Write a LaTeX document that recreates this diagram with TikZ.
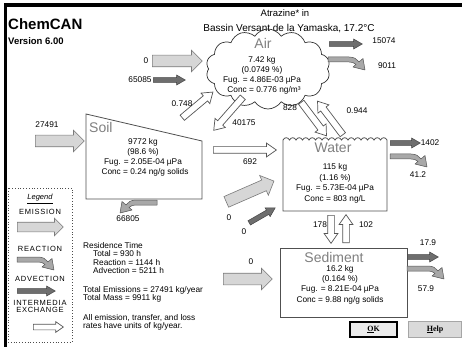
\documentclass[tikz,border=0pt]{standalone}
\usepackage{fontspec}
\setmainfont{Liberation Sans}
\newfontfamily\btnfont{Liberation Serif}
\newfontfamily\legfont[LetterSpace=10]{Liberation Sans}
\usetikzlibrary{shapes.arrows,shapes.symbols}
\definecolor{emfill}{HTML}{D6D6D6}
\definecolor{emline}{HTML}{7A7A7A}
\definecolor{advfill}{HTML}{6E6E6E}
\definecolor{advline}{HTML}{444444}
\definecolor{rxfill}{HTML}{A8A8A8}
\definecolor{rxline}{HTML}{555555}
\definecolor{boxline}{HTML}{505050}
\definecolor{titlegrey}{HTML}{808080}
\definecolor{btngrey}{HTML}{DADADA}
\tikzset{
  lbl/.style={inner sep=0pt, font=\fontsize{8.3}{10}\selectfont},
  txt/.style={inner sep=0pt, anchor=base, font=\fontsize{8.3}{10}\selectfont},
  ltxt/.style={inner sep=0pt, anchor=base west, font=\fontsize{8.3}{10}\selectfont},
  bigname/.style={inner sep=0pt, text=titlegrey, font=\fontsize{14}{14}\selectfont},
  legtxt/.style={inner sep=0pt, anchor=base, font=\legfont\fontsize{7.5}{8}\selectfont},
  compbox/.style={draw=boxline, line width=0.8pt},
  emarrow/.style={single arrow, draw=emline, fill=emfill, line width=0.6pt,
    inner xsep=0pt, inner ysep=5.5pt, single arrow head extend=5pt, single arrow tip angle=90,
    anchor=tail},
  advarrow/.style={single arrow, draw=advline, fill=advfill, line width=0.5pt,
    inner xsep=0pt, inner ysep=2.2pt, single arrow head extend=2.6pt, single arrow tip angle=60,
    anchor=tail},
  exarrow/.style={single arrow, draw=rxline, fill=white, line width=0.7pt,
    inner xsep=0pt, inner ysep=3pt, single arrow head extend=3.5pt, single arrow tip angle=70,
    anchor=tail},
  rxarrow/.pic={
    \draw[draw=rxline, fill=rxfill, line width=0.5pt, line join=round]
      (0,0) -- (21,0) .. controls (26,0) and (29,2) .. (31,4.9)
      -- (35,1.5) -- (37,13) -- (25,10) -- (28,7.45)
      .. controls (26,5.6) and (24,5) .. (21,5) -- (0,5) -- cycle;
  }
}
\begin{document}
\begin{tikzpicture}[x=1pt,y=-1pt]
\useasboundingbox (0,0) rectangle (462,347);
\fill[white] (0,0) rectangle (462,347);
% window frame
\fill[black] (3.5,3.5) rectangle (462,7);
\fill[black] (3.5,3.5) rectangle (7,347);

% headings
\node[inner sep=0pt, anchor=base west, font=\bfseries\fontsize{15}{15}\selectfont] (app) at (8,30) {ChemCAN};
\node[inner sep=0pt, anchor=base west, font=\bfseries\fontsize{9.5}{10}\selectfont] (ver) at (8,45) {Version 6.00};
\node[inner sep=0pt, anchor=base, font=\fontsize{9.5}{10}\selectfont] (title1) at (285,17) {Atrazine* in};
\node[inner sep=0pt, anchor=base, font=\fontsize{10}{10}\selectfont] (title2) at (289,31.5) {Bassin Versant de la Yamaska, 17.2°C};

% ---------- compartments ----------
\node[cloud, cloud puffs=14, cloud puff arc=115, aspect=1.7, draw=black!80, line width=0.7pt,
      minimum width=124pt, minimum height=80pt, inner sep=0pt] (air) at (268,69) {};
\node[bigname, anchor=base] (airname) at (263,49) {Air};
\node[txt] (airm) at (262,63) {7.42 kg};
\node[txt] (airp) at (262,73) {(0.0749 \%)};
\node[txt] (airf) at (262,83) {Fug. = 4.86E-03 µPa};
\node[txt] (airc) at (264,92.5) {Conc = 0.776 ng/m³};

\draw[compbox] (86,114) -- (202,141) -- (202,199) -- (86,199) -- cycle;
\coordinate (soil) at (144,160);
\node[bigname, anchor=base west] (soilname) at (89,133) {Soil};
\node[txt] (soilm) at (143,145) {9772 kg};
\node[txt] (soilp) at (143,155) {(98.6 \%)};
\node[txt] (soilf) at (143,165) {Fug. = 2.05E-04 µPa};
\node[txt] (soilc) at (145,175) {Conc = 0.24 ng/g solids};

\draw[compbox] (283,211) -- (283,140)
  \foreach \i in {0,...,15}{ .. controls ({283+6.5*\i+1.6},137) and ({283+6.5*\i+4.9},137) .. ({283+6.5*(\i+1)},140) }
  -- (387,211) -- cycle;
\coordinate (water) at (335,176);
\node[bigname, anchor=base] (watername) at (333,153) {Water};
\node[txt] (waterm) at (335,170) {115 kg};
\node[txt] (waterp) at (335,180) {(1.16 \%)};
\node[txt] (waterf) at (335,190.5) {Fug. = 5.73E-04 µPa};
\node[txt] (waterc) at (335,201) {Conc = 803 ng/L};

\draw[compbox] (280,248) rectangle (407,317);
\coordinate (sed) at (343,282);
\node[bigname, anchor=base] (sedname) at (334,262) {Sediment};
\node[txt] (sedm) at (340,271) {16.2 kg};
\node[txt] (sedp) at (340,281) {(0.164 \%)};
\node[txt] (sedf) at (340,291.5) {Fug. = 8.21E-04 µPa};
\node[txt] (sedc) at (340,302) {Conc = 9.88 ng/g solids};

% ---------- emissions ----------
\node[emarrow, minimum height=50pt] (eair) at (152,61) {};
\node[lbl] (leair) at (146,61) {0};
\node[emarrow, minimum height=49pt] (esoil) at (35,141) {};
\node[lbl] (lesoil) at (47,125) {27491};
\node[emarrow, minimum height=52pt, rotate=23.6] (ewater) at (226,202) {};
\node[lbl] (lewater) at (229,218) {0};
\node[emarrow, minimum height=49pt] (esed) at (223,279) {};
\node[lbl] (lesed) at (251,262) {0};

% ---------- advection ----------
\node[advarrow, minimum height=32pt] (aairin) at (153,80) {};
\node[lbl] (laairin) at (140,80) {65085};
\node[advarrow, minimum height=33pt] (aairout) at (329,44) {};
\node[lbl] (laairout) at (384,41) {15074};
\node[advarrow, minimum height=30pt, rotate=30] (awaterin) at (249,223) {};
\node[lbl] (lawaterin) at (244,232) {0};
\node[advarrow, minimum height=30pt] (awaterout) at (390,143) {};
\node[lbl] (lawaterout) at (430,143) {1402};
\node[advarrow, minimum height=31pt] (asedout) at (407,257) {};
\node[lbl] (lasedout) at (428,243) {17.9};

% ---------- reactions ----------
\pic (rair) at (328,57) {rxarrow};
\node[lbl] (lrair) at (387,66) {9011};
\pic (rwater) at (390,154) {rxarrow};
\node[lbl] (lrwater) at (418,175) {41.2};
\pic (rsed) at (407,266) {rxarrow};
\node[lbl] (lrsed) at (426,289) {57.9};
\pic[xscale=-1] (rsoil) at (157,200) {rxarrow};
\node[lbl] (lrsoil) at (128,219) {66805};

% ---------- intermedia exchange ----------
\node[exarrow, minimum height=40pt, rotate=40] (xsa) at (182,118) {};
\node[lbl] (lxsa) at (182,104) {0.748};
\node[exarrow, minimum height=44pt, rotate=228.7] (xas) at (243,97) {};
\node[lbl] (lxas) at (244,123) {40175};
\node[exarrow, minimum height=42pt, rotate=-53] (xaw) at (301,102) {};
\node[lbl] (lxaw) at (290,108) {828};
\node[exarrow, minimum height=42pt, rotate=127] (xwa) at (343,135) {};
\node[lbl] (lxwa) at (357,111) {0.944};
\node[exarrow, minimum height=63pt] (xsw) at (213,150) {};
\node[lbl] (lxsw) at (250,162) {692};
\node[exarrow, minimum height=28pt, rotate=-90] (xws) at (331,215) {};
\node[lbl] (lxws) at (320,225) {178};
\node[exarrow, minimum height=28pt, rotate=90] (xsw2) at (346,243) {};
\node[lbl] (lxsw2) at (366,225) {102};

% ---------- legend ----------
\draw[black!70, line width=0.8pt, dotted] (8,188) rectangle (72,342);
\node[inner sep=0pt, anchor=base, font=\itshape\fontsize{7.5}{8}\selectfont] (legtitle) at (40,200) {\underline{Legend}};
\node[legtxt] (legem) at (40,214) {EMISSION};
\node[emarrow, minimum height=46pt, inner ysep=4.5pt, single arrow head extend=4pt] (legema) at (17,227) {};
\node[legtxt] (legrx) at (40,251) {REACTION};
\pic (legrxa) at (17,257) {rxarrow};
\node[legtxt] (legadv) at (40,281) {ADVECTION};
\node[advarrow, minimum height=38pt] (legadva) at (17,291) {};
\node[legtxt] (legim) at (40,305) {INTERMEDIA};
\node[legtxt] (legex) at (40,312) {EXCHANGE};
\node[exarrow, minimum height=30pt, inner ysep=2.5pt, single arrow head extend=2.5pt] (legexa) at (33,327) {};

% ---------- residence text ----------
\node[ltxt] (rt) at (83,248) {Residence Time};
\node[ltxt] (rttot) at (93,256.5) {Total = 930 h};
\node[ltxt] (rtrx) at (93,265) {Reaction = 1144 h};
\node[ltxt] (rtadv) at (93,273.5) {Advection = 5211 h};
\node[ltxt] (temis) at (83,292) {Total Emissions = 27491 kg/year};
\node[ltxt] (tmass) at (83,300.5) {Total Mass = 9911 kg};
\node[ltxt] (note1) at (83,320) {All emission, transfer, and loss};
\node[ltxt] (note2) at (83,328.5) {rates have units of kg/year.};

% ---------- buttons ----------
\draw[fill=black!8, draw=black, line width=1.6pt] (350,322) rectangle (397,337);
\node[inner sep=0pt, font=\btnfont\bfseries\fontsize{8}{8}\selectfont] (ok) at (373.5,329.5) {\underline{O}K};
\draw[fill=btngrey, draw=black!35, line width=0.6pt] (408,321) rectangle (461.5,337.5);
\node[inner sep=0pt, font=\btnfont\bfseries\fontsize{8}{8}\selectfont] (help) at (435,329.5) {\underline{H}elp};
\end{tikzpicture}
\end{document}
